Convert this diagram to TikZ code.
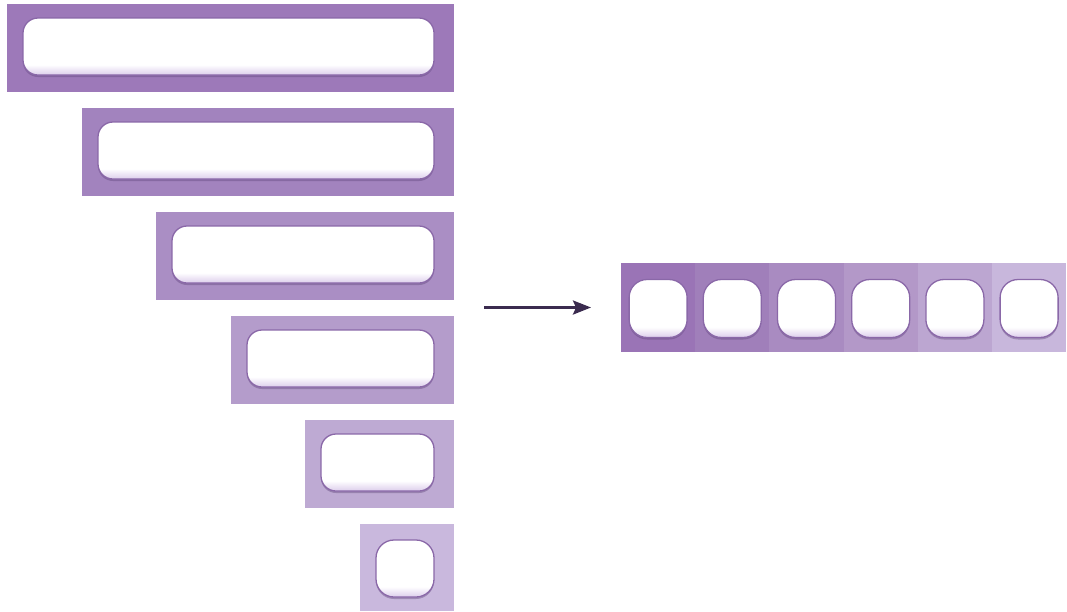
\documentclass[tikz,border=0pt]{standalone}
\usetikzlibrary{shadows,arrows.meta,calc}
\definecolor{bA}{HTML}{9D79B9}
\definecolor{bB}{HTML}{A283BE}
\definecolor{bC}{HTML}{AA8EC4}
\definecolor{bD}{HTML}{B49CCB}
\definecolor{bE}{HTML}{BEAAD3}
\definecolor{bF}{HTML}{C9B8DD}
\definecolor{sA}{HTML}{9A74B6}
\definecolor{sB}{HTML}{A07FBA}
\definecolor{sC}{HTML}{A98BC1}
\definecolor{sD}{HTML}{B398C8}
\definecolor{sE}{HTML}{BCA6D1}
\definecolor{sF}{HTML}{C8B7DC}
\definecolor{holeedge}{HTML}{8A68A8}
\definecolor{holebot}{HTML}{DCCDEB}
\definecolor{holeshadow}{HTML}{5E4478}
\definecolor{arrowcol}{HTML}{3B2B4F}
\pgfdeclareverticalshading{holeshade}{100bp}{color(0bp)=(holebot); color(25bp)=(holebot); color(34bp)=(white); color(100bp)=(white)}
\begin{document}
\begin{tikzpicture}[x=1pt,y=-1pt,
  bar/.style={rectangle, inner sep=0pt, outer sep=0pt, anchor=north west, minimum height=88pt},
  cell/.style={rectangle, inner sep=0pt, outer sep=0pt, anchor=north west, minimum width=74.2pt, minimum height=89pt},
  hole/.style={rectangle, rounded corners=15pt, draw=holeedge, line width=1.3pt,
    shading=holeshade,
    inner sep=0pt, outer sep=0pt, minimum height=57pt,
    drop shadow={shadow xshift=0pt, shadow yshift=-2pt, fill=holeshadow, opacity=0.4}},
  sq/.style={hole, rounded corners=18pt, minimum width=58pt, minimum height=58pt},
  arrowline/.style={draw=arrowcol, line width=2.8pt, -{Stealth[length=18pt,width=14pt,inset=3pt]}}
]
\useasboundingbox (0,0) rectangle (1067,611);
% left bars
\node[bar, fill=bA, minimum width=447pt] (b1) at (7,4) {};
\node[bar, fill=bB, minimum width=372pt] (b2) at (82,108) {};
\node[bar, fill=bC, minimum width=298pt] (b3) at (156,212) {};
\node[bar, fill=bD, minimum width=223pt] (b4) at (231,316) {};
\node[bar, fill=bE, minimum width=149pt] (b5) at (305,420) {};
\node[bar, fill=bF, minimum width=94pt, minimum height=87pt] (b6) at (360,524) {};
% holes in bars
\node[hole, minimum width=411pt] (h1) at ([xshift=-2pt,yshift=1.5pt]b1.center) {};
\node[hole, minimum width=336pt] (h2) at ([xshift=-2pt,yshift=1.5pt]b2.center) {};
\node[hole, minimum width=262pt] (h3) at ([xshift=-2pt,yshift=1.5pt]b3.center) {};
\node[hole, minimum width=187pt] (h4) at ([xshift=-2pt,yshift=1.5pt]b4.center) {};
\node[hole, minimum width=113pt] (h5) at ([xshift=-2pt,yshift=1.5pt]b5.center) {};
\node[sq, minimum width=58pt, minimum height=57pt] (h6) at ([xshift=-2pt,yshift=-1pt]b6.center) {};
% strip
\node[cell, fill=sA] (s1) at (621,263) {};
\node[cell, fill=sB] (s2) at (s1.north east) {};
\node[cell, fill=sC] (s3) at (s2.north east) {};
\node[cell, fill=sD] (s4) at (s3.north east) {};
\node[cell, fill=sE] (s5) at (s4.north east) {};
\node[cell, fill=sF] (s6) at (s5.north east) {};
\node[sq] (q1) at ([yshift=-1pt]s1.center) {};
\node[sq] (q2) at ([yshift=-1pt]s2.center) {};
\node[sq] (q3) at ([yshift=-1pt]s3.center) {};
\node[sq] (q4) at ([yshift=-1pt]s4.center) {};
\node[sq] (q5) at ([yshift=-1pt]s5.center) {};
\node[sq] (q6) at ([yshift=-1pt]s6.center) {};
% arrow
\coordinate (astart) at (484,307.5);
\draw[arrowline, shorten >=30pt] (astart) -- (s1.west);
\end{tikzpicture}
\end{document}
